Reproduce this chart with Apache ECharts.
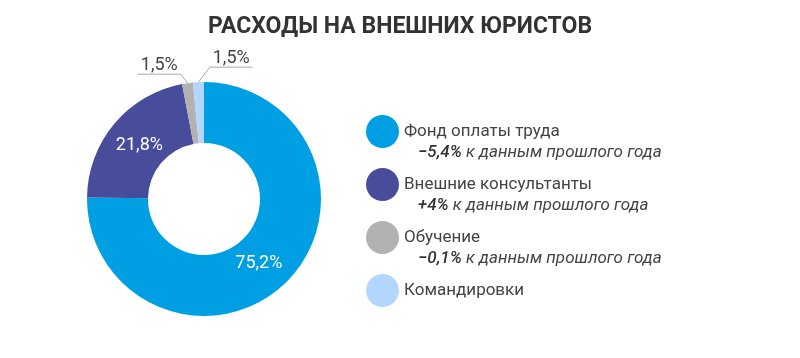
<!DOCTYPE html>
<html>
<head>
<meta charset="utf-8">
<script src="https://cdn.jsdelivr.net/npm/echarts@6/dist/echarts.min.js"></script>
<style>
html,body{margin:0;padding:0;background:#fff;}
#chart{width:800px;height:358px;}
</style>
</head>
<body>
<div id="chart"></div>
<script>
var names=["Фонд оплаты труда","Внешние консультанты","Обучение","Командировки"];
var values=[75.2,21.8,1.5,1.5];
var deltas=["−5,4%","+4%","−0,1%",""];
var colors=["#009fe3","#484d9b","#b2b2b2","#b3d6ff"];

var legendLeft=366,legendTop=115,itemH=33,itemGap=20;

var myChart=echarts.init(document.getElementById('chart'));

//подписи под легендой
var subs=[];
for(var i=0;i<deltas.length;i++){
	if(!deltas[i])continue;
	subs.push({
		type:'text',
		left:418,
		top:legendTop+i*(itemH+itemGap)+itemH/2+13,
		style:{
			text:'{b|'+deltas[i]+'} к данным прошлого года',
			fontFamily:'Roboto',
			fontSize:17,
			fontStyle:'italic',
			fill:'#444',
			rich:{
				b:{fontFamily:'Roboto',fontSize:17,fontStyle:'italic',fontWeight:500,fill:'#333'}
			}
		}
	});
}

var data=[];
for(var i=0;i<names.length;i++){
	var item={value:values[i],name:names[i],itemStyle:{color:colors[i]}};
	if(values[i]<5){
		item.label={position:'outside',color:'#444'};
		item.labelLine={show:true,lineStyle:{color:'#aaa',width:1}};
	}
	data.push(item);
}

var option={
	animation:false,
	textStyle:{fontFamily:'Roboto'},
	title:{
		text:'РАСХОДЫ НА ВНЕШНИХ ЮРИСТОВ',
		left:'center',
		top:11,
		textStyle:{fontFamily:'Roboto',fontSize:23,fontWeight:'bold',color:'#333'}
	},
	legend:{
		orient:'vertical',
		left:legendLeft,
		top:legendTop,
		padding:0,
		icon:'circle',
		itemWidth:itemH,
		itemHeight:itemH,
		itemGap:itemGap,
		textStyle:{fontFamily:'Roboto',fontSize:17,color:'#444'},
		data:names
	},
	graphic:subs,
	series:[{
		type:'pie',
		center:[204,199],
		radius:[56,117],
		startAngle:90,
		clockwise:true,
		label:{
			show:true,
			position:'inside',
			fontFamily:'Roboto',
			fontSize:18,
			color:'#fff',
			formatter:function(p){return String(p.value).replace('.',',')+'%';}
		},
		labelLine:{show:false,length:12,length2:30},
		labelLayout:function(p){
			if(values[p.dataIndex]>=5){
				//чуть сдвигаем внутренние подписи
				return p.dataIndex==0?{dx:-8,dy:1}:{dx:4,dy:4};
			}
			if(!p.labelLinePoints)return;
			var s=p.labelLinePoints[0];
			var w=p.labelRect.width;
			var dir=p.dataIndex==3?1:-1;
			var up=p.dataIndex==3?15:9;
			var ex=s[0]+dir*up*0.75,ey=s[1]-up;
			var endX=ex+dir*(w+6);
			return {
				x:(ex+endX)/2,
				y:ey,
				align:'center',
				verticalAlign:'bottom',
				labelLinePoints:[s,[ex,ey],[endX,ey]]
			};
		},
		data:data
	}]
};
myChart.setOption(option);
</script>
</body>
</html>
